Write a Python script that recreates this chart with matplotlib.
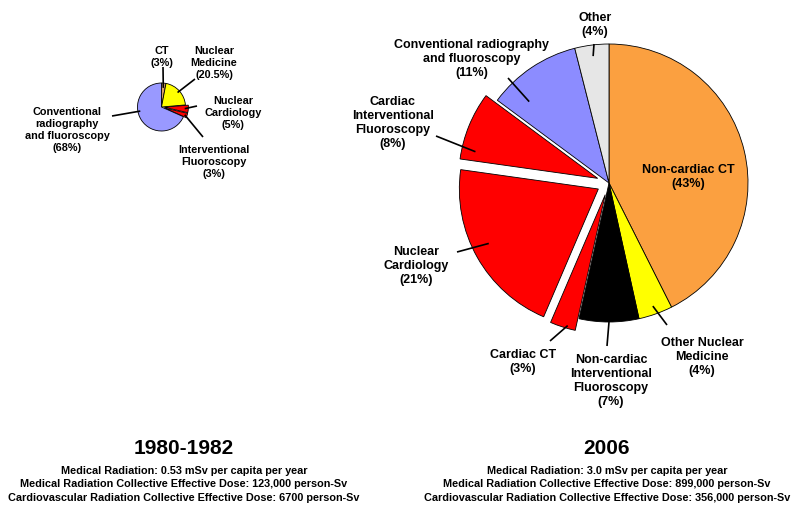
import numpy as np
import matplotlib
matplotlib.use('Agg')
import matplotlib.pyplot as plt

plt.rcParams['font.family'] = ['Liberation Sans', 'DejaVu Sans']
plt.rcParams['font.weight'] = 'bold'

W, H = 800, 510

# 1980-1982 pie
old_labels = ['CT', 'Nuclear\nMedicine', 'Nuclear\nCardiology',
              'Interventional\nFluoroscopy', 'Conventional\nradiography\nand fluoroscopy']
old_values = [3, 20.5, 5, 3, 68]
old_colors = ['#D9A066', '#FFFF00', '#FF0000', '#FF0000', '#9999FF']
old_explode = [0, 0, 0.12, 0.12, 0]

# 2006 pie
new_labels = ['Non-cardiac CT', 'Other Nuclear\nMedicine',
              'Non-cardiac\nInterventional\nFluoroscopy', 'Cardiac CT',
              'Nuclear\nCardiology', 'Cardiac\nInterventional\nFluoroscopy',
              'Conventional radiography\nand fluoroscopy', 'Other']
new_values = [43, 4, 7, 3, 21, 8, 11, 4]
new_colors = ['#FBA040', '#FFFF00', '#000000', '#FF0000', '#FF0000',
              '#FF0000', '#8C8CFF', '#E6E6E6']
new_explode = [0, 0, 0, 0.088, 0.088, 0.088, 0, 0]

old_title = '1980-1982'
old_notes = ['Medical Radiation: 0.53 mSv per capita per year',
             'Medical Radiation Collective Effective Dose: 123,000 person-Sv',
             'Cardiovascular Radiation Collective Effective Dose: 6700 person-Sv']
new_title = '2006'
new_notes = ['Medical Radiation: 3.0 mSv per capita per year',
             'Medical Radiation Collective Effective Dose: 899,000 person-Sv',
             'Cardiovascular Radiation Collective Effective Dose: 356,000 person-Sv']

# label layout (pixel coords, y down): text centre, leader (t along wedge, r frac, outer point)
old_text_pos = [(162, 57), (214, 63), (233, 113), (214, 162), (67, 130)]
old_leaders = [(0.5, 0.8, (163, 68)), (0.5, 0.9, (195, 80)), (0.5, 0.85, (197, 107)),
               (0.5, 0.9, (203, 138)), (0.59, 0.9, (112, 117))]
new_text_pos = [(688, 177), (702, 357), (611, 381), (523, 362), (416, 266),
                (393, 123), (472, 59), (595, 25)]
new_leaders = [None, (0.5, 0.94, (667, 326)), (0.5, 1.0, (607, 347)),
               (0.33, 0.98, (550, 342)), (0.54, 0.88, (457, 253)),
               (0.15, 0.9, (436, 137)), (0.23, 0.82, (508, 79)),
               (0.5, 0.92, (594, 45))]


def draw_pie(ax, values, colors, explode, labels, center, radius,
             text_pos, leaders, fontsize):
    cx, cy = center
    # explode is in data units here, so scale the fractions by the radius
    wedges, _ = ax.pie(values, colors=colors,
                       explode=[e * radius for e in explode],
                       startangle=90, counterclock=False,
                       center=(cx, H - cy), radius=radius,
                       wedgeprops=dict(edgecolor='black', linewidth=0.6))
    for w, lab, val, tp, ld in zip(wedges, labels, values, text_pos, leaders):
        ax.text(tp[0], H - tp[1], f'{lab}\n({val:g}%)', ha='center', va='center',
                fontsize=fontsize, fontweight='bold', linespacing=1.22)
        if ld is None:
            continue
        t, rf, outer = ld
        # counterclock=False: walk from theta2 down to theta1
        ang = np.radians(w.theta2 - t * (w.theta2 - w.theta1))
        x0 = w.center[0] + rf * w.r * np.cos(ang)
        y0 = w.center[1] + rf * w.r * np.sin(ang)
        ax.plot([x0, outer[0]], [y0, H - outer[1]], color='black', lw=1.2,
                solid_capstyle='butt')


fig = plt.figure(figsize=(8, 5.1), dpi=100)
ax = fig.add_axes([0, 0, 1, 1])

draw_pie(ax, old_values, old_colors, old_explode, old_labels, (161.5, 108), 24,
         old_text_pos, old_leaders, 7.8)
draw_pie(ax, new_values, new_colors, new_explode, new_labels, (609, 184), 139,
         new_text_pos, new_leaders, 9)

for x, title, notes in [(184, old_title, old_notes), (607, new_title, new_notes)]:
    ax.text(x, H - 449, title, ha='center', va='center', fontsize=15, fontweight='bold')
    for i, line in enumerate(notes):
        ax.text(x, H - (471 + 13.5 * i), line, ha='center', va='center',
                fontsize=7.8, fontweight='bold')

ax.set_xlim(0, W)
ax.set_ylim(0, H)
ax.set_aspect('equal')
ax.axis('off')

fig.savefig('out.png', dpi=100)
